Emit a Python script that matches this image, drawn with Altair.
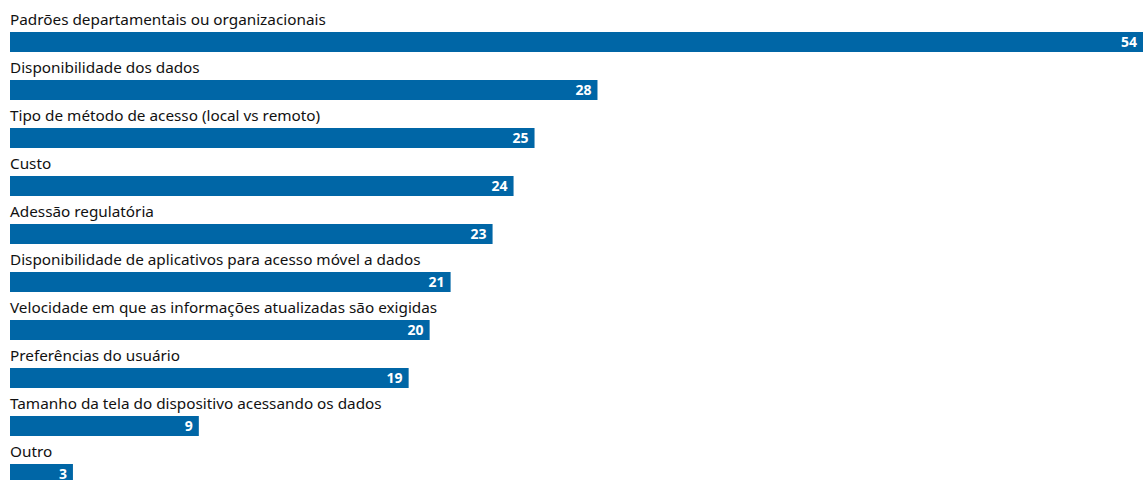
import altair as alt
import pandas as pd

categories = [
    "Padrões departamentais ou organizacionais",
    "Disponibilidade dos dados",
    "Tipo de método de acesso (local vs remoto)",
    "Custo",
    "Adessão regulatória",
    "Disponibilidade de aplicativos para acesso móvel a dados",
    "Velocidade em que as informações atualizadas são exigidas",
    "Preferências do usuário",
    "Tamanho da tela do dispositivo acessando os dados",
    "Outro",
]
values = [54, 28, 25, 24, 23, 21, 20, 19, 9, 3]

df = pd.DataFrame({"cat": categories, "value": values})

FONT = "Noto Sans"
COLOR = "#0066a6"

y = alt.Y("cat:N", sort=categories, axis=None,
          scale=alt.Scale(paddingInner=0, paddingOuter=0))
x = alt.X("value:Q", axis=None, scale=alt.Scale(domain=[0, 54], nice=False, zero=True))

base = alt.Chart(df)

bars = base.mark_bar(size=20, yOffset=18, color=COLOR).encode(x=x, y=y)

cat_labels = base.mark_text(
    align="left", baseline="alphabetic", dy=1, font=FONT, fontSize=15.3, color="#111111"
).encode(x=alt.value(0), y=y, text="cat:N")

val_labels = base.mark_text(
    align="right", baseline="alphabetic", dy=22.5, dx=-6, font=FONT, fontSize=14,
    fontWeight="bold", color="white"
).encode(x=x, y=y, text="value:Q")

chart = (bars + cat_labels + val_labels).properties(
    width=1133, height=480,
    autosize=alt.AutoSizeParams(type="none"),
    padding={"left": 10, "right": 0, "top": 0, "bottom": 0},
).configure_view(stroke=None)

chart.save("out.html", embed_options={"renderer": "svg", "actions": False})
